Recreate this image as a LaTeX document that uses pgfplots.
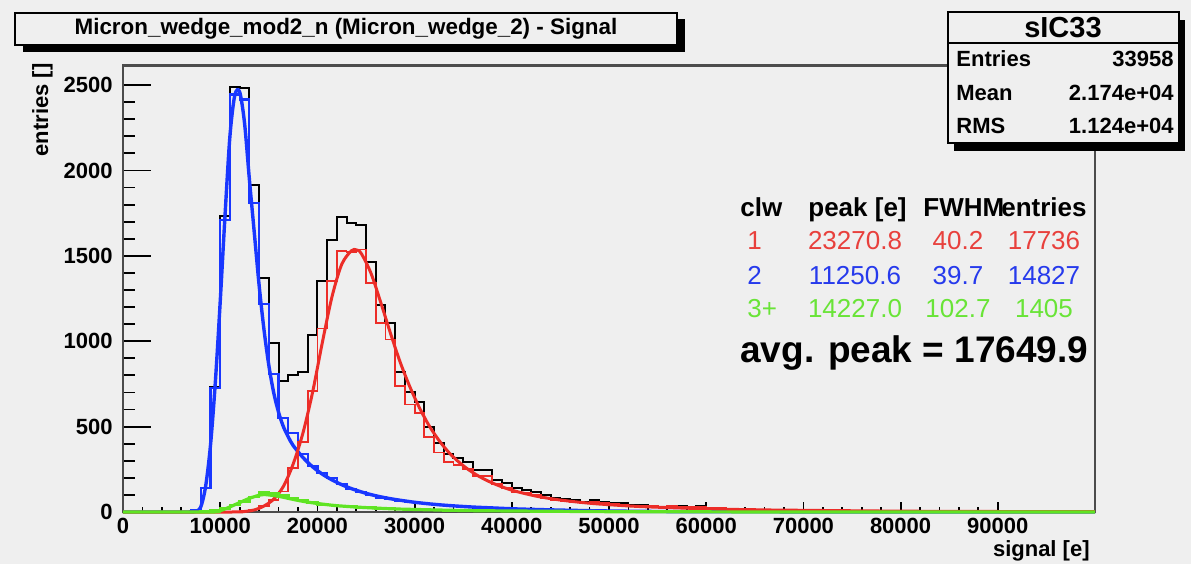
\documentclass[border=0pt]{standalone}
\usepackage{pgfplots}
\pgfplotsset{compat=1.18}
\usepackage{pgfplotstable}
\usepackage{fontspec}
\setmainfont{Liberation Sans}
\definecolor{bg}{RGB}{239,239,239}
\definecolor{hred}{RGB}{236,45,40}
\definecolor{hblue}{RGB}{25,55,255}
\definecolor{hgreen}{RGB}{95,228,35}
\definecolor{tred}{RGB}{232,64,60}
\definecolor{tblue}{RGB}{38,58,236}
\definecolor{tgreen}{RGB}{105,228,55}

% bin low edge, total, clw=2 (blue), clw=1 (red), clw>=3 (green)
\pgfplotstableread{
x black blue red green
0 0 0 0 0
1000 0 0 0 0
2000 0 0 0 0
3000 0 0 0 0
4000 0 0 0 0
5000 0 0 0 0
6000 0 0 0 0
7000 10 10 0 0
8000 143 140 0 3
9000 734 726 0 8
10000 1734 1712 2 20
11000 2488 2445 3 40
12000 2480 2415 5 60
13000 1913 1810 15 88
14000 1370 1220 35 115
15000 990 810 70 110
16000 765 550 120 95
17000 802 462 260 80
18000 820 340 410 70
19000 1035 270 710 55
20000 1350 230 1075 45
21000 1592 200 1352 40
22000 1729 165 1528 36
23000 1690 135 1523 32
24000 1680 115 1537 28
25000 1466 100 1341 25
26000 1212 85 1105 22
27000 1105 75 1010 20
28000 821 65 738 18
29000 704 58 630 16
30000 646 52 580 14
31000 500 47 441 12
32000 402 42 349 11
33000 340 38 292 10
34000 318 35 274 9
35000 292 31 253 8
36000 248 28 213 7
37000 244 25 212 7
38000 190 22 162 6
39000 168 20 142 6
40000 140 18 117 5
41000 130 16 109 5
42000 118 14 100 4
43000 100 12 84 4
44000 82 10 68 4
45000 78 9 66 3
46000 70 8 59 3
47000 60 7 50 3
48000 68 6 59 3
49000 58 5 51 2
50000 52 4 46 2
51000 50 4 44 2
52000 42 3 37 2
53000 40 3 35 2
54000 36 2 33 1
55000 32 2 29 1
56000 36 1 34 1
57000 33 1 31 1
58000 30 1 28 1
59000 34 1 32 1
60000 26 1 25 0
61000 22 0 22 0
62000 20 0 20 0
63000 18 0 18 0
64000 17 0 17 0
65000 14 0 14 0
66000 12 0 12 0
67000 14 0 14 0
68000 10 0 10 0
69000 9 0 9 0
70000 9 0 9 0
71000 8 0 8 0
72000 7 0 7 0
73000 8 0 8 0
74000 6 0 6 0
75000 5 0 5 0
76000 6 0 6 0
77000 5 0 5 0
78000 4 0 4 0
79000 4 0 4 0
80000 5 0 5 0
81000 3 0 3 0
82000 3 0 3 0
83000 4 0 4 0
84000 2 0 2 0
85000 3 0 3 0
86000 2 0 2 0
87000 2 0 2 0
88000 3 0 3 0
89000 1 0 1 0
90000 2 0 2 0
91000 1 0 1 0
92000 2 0 2 0
93000 1 0 1 0
94000 1 0 1 0
95000 1 0 1 0
96000 0 0 0 0
97000 1 0 1 0
98000 0 0 0 0
99000 1 0 1 0
100000 1 0 1 0
}\histdata

\begin{document}
\begin{tikzpicture}[x=0.5pt,y=-0.5pt]
\path[use as bounding box, fill=bg] (0,0) rectangle (1191,564);

% axis carrying the y ticks
\begin{axis}[
  at={(61.5pt,-256pt)}, anchor=south west, scale only axis,
  width=486pt, height=223.3pt,
  xmin=0, xmax=100000, ymin=0, ymax=2615,
  xtick=\empty, ytick={0,500,...,2500}, minor y tick num=4,
  ytick pos=left, tick align=inside,
  major tick length=14pt, minor tick length=6pt,
  axis line style={draw=black!70, line width=1.2pt},
  tick style={black, line width=0.9pt},
  scaled y ticks=false,
  yticklabel style={font=\bfseries\fontsize{11}{13}\selectfont, anchor=east, inner sep=0pt, xshift=-5pt,
    /pgf/number format/assume math mode=true, /pgf/number format/1000 sep={}},
]
\end{axis}

% axis carrying the data and the x ticks
\begin{axis}[
  at={(61.5pt,-256pt)}, anchor=south west, scale only axis,
  width=486pt, height=223.3pt,
  xmin=0, xmax=100000, ymin=0, ymax=2615,
  ytick=\empty, xtick={0,10000,...,90000}, minor x tick num=4,
  xtick pos=bottom, tick align=inside,
  major tick length=5pt, minor tick length=2.5pt,
  axis line style={draw=black!70, line width=1.2pt},
  tick style={black, line width=0.9pt},
  scaled x ticks=false, clip=false,
  xticklabel style={font=\bfseries\fontsize{11}{13}\selectfont, anchor=north, inner sep=0pt, yshift=-3pt,
    /pgf/number format/assume math mode=true, /pgf/number format/fixed, /pgf/number format/1000 sep={}},
]
\addplot[const plot, black, line width=1pt] table[x=x, y=black] {\histdata};
\addplot[const plot, hblue, line width=1.1pt] table[x=x, y=blue] {\histdata};
\addplot[smooth, tension=0.5, hblue, line width=1.7pt] coordinates {
(0,0) (6000,0) (7000,1) (7500,4) (8000,30) (8500,150) (9000,390) (9500,760) (10000,1230)
(10500,1740) (11000,2200) (11500,2440) (12000,2460) (12500,2280) (13000,1950) (13500,1640)
(14000,1330) (14500,1070) (15000,860) (15500,700) (16000,585) (16500,500) (17000,440)
(17500,390) (18500,320) (19500,265) (20500,222) (21500,188) (22500,160) (23500,137)
(24500,118) (25500,102) (26500,89) (27500,78) (28500,69) (30000,57) (32000,45) (34000,36)
(36000,29) (38000,24) (40000,19) (43000,14) (46000,10) (50000,6) (55000,3) (60000,2)
(70000,1) (80000,0) (100000,0)};
\addplot[const plot, hred, line width=0.9pt] table[x=x, y=red] {\histdata};
\addplot[smooth, tension=0.5, hred, line width=1.5pt] coordinates {
(0,0) (11000,0) (12500,3) (13500,12) (14500,35) (15500,75) (16500,150) (17500,280)
(18500,460) (19500,700) (20500,990) (21500,1260) (22500,1450) (23500,1530) (24000,1535)
(24500,1515) (25500,1400) (26500,1230) (27500,1050) (28500,880) (29500,735) (30500,610)
(31500,505) (32500,420) (33500,350) (34500,295) (35500,250) (36500,213) (37500,183)
(38500,158) (39500,137) (40500,120) (42500,93) (44500,74) (46500,60) (48500,49)
(50500,41) (52500,34) (55000,28) (60000,19) (65000,13) (70000,10) (80000,5) (90000,3)
(100000,2)};
\addplot[const plot, hgreen, line width=1.3pt] table[x=x, y=green] {\histdata};
\addplot[smooth, tension=0.5, hgreen, line width=1.6pt] coordinates {
(0,0) (9000,0) (10000,8) (10500,18) (11000,30) (12000,55) (13000,80) (14000,98)
(14500,102) (15000,100) (16000,92) (17000,80) (18000,68) (19000,58) (20000,50)
(21000,43) (22000,37) (24000,29) (26000,23) (28000,18) (30000,15) (33000,11)
(36000,8) (40000,6) (45000,4) (50000,2) (60000,1) (70000,0) (100000,0)};
\end{axis}

% axis titles
\node[font=\bfseries\fontsize{11}{13}\selectfont, anchor=base east, inner sep=0pt] at (1090,556) {signal [e]};
\node[font=\bfseries\fontsize{11}{13}\selectfont, rotate=90, anchor=east, inner sep=0pt] at (42.5,63) {entries []};

% title box
\fill[black] (23,19) rectangle (685,52);
\draw[fill=bg, line width=1pt] (15,13) rectangle (677,45);
\node[font=\bfseries\fontsize{11.2}{13}\selectfont, inner sep=0pt] at (346,29) {Micron\_wedge\_mod2\_n (Micron\_wedge\_2) - Signal};

% statistics box
\fill[black] (954,20) rectangle (1185,151);
\draw[fill=bg, line width=1pt] (948,12) rectangle (1179,143);
\draw[line width=1pt] (948,43) -- (1179,43);
\node[font=\bfseries\fontsize{14.5}{16}\selectfont, inner sep=0pt] at (1063,28) {sIC33};
\begin{scope}[every node/.style={font=\bfseries\fontsize{11}{13}\selectfont, inner sep=0pt}]
\node[anchor=base west] at (956,66) {Entries};
\node[anchor=base east] at (1174,66) {33958};
\node[anchor=base west] at (956,100) {Mean};
\node[anchor=base east] at (1174,100) {2.174e+04};
\node[anchor=base west] at (956,133) {RMS};
\node[anchor=base east] at (1174,133) {1.124e+04};
\end{scope}

% fit summary
\begin{scope}[every node/.style={font=\bfseries\fontsize{13}{15}\selectfont, inner sep=0pt}]
\node[anchor=base west] at (740,216) {clw};
\node[anchor=base west] at (808,216) {peak [e]};
\node[anchor=base west] at (923,216) {FWHM};
\node[anchor=base east] at (1087,216) {entries};
\end{scope}
\begin{scope}[every node/.style={font=\fontsize{13}{15}\selectfont, inner sep=0pt, anchor=base}]
\node[tred, anchor=base west] at (747,249) {1};
\node[tred] at (855,249) {23270.8};
\node[tred] at (958,249) {40.2};
\node[tred] at (1044,249) {17736};
\node[tblue, anchor=base west] at (747,284) {2};
\node[tblue] at (855,284) {11250.6};
\node[tblue] at (958,284) {39.7};
\node[tblue] at (1044,284) {14827};
\node[tgreen, anchor=base west] at (747,317) {3+};
\node[tgreen] at (855,317) {14227.0};
\node[tgreen] at (958,317) {102.7};
\node[tgreen] at (1044,317) {1405};
\end{scope}
\node[font=\bfseries\fontsize{18.5}{21}\selectfont, inner sep=0pt, anchor=base west] at (740,362) {avg. peak = 17649.9};
\end{tikzpicture}
\end{document}
